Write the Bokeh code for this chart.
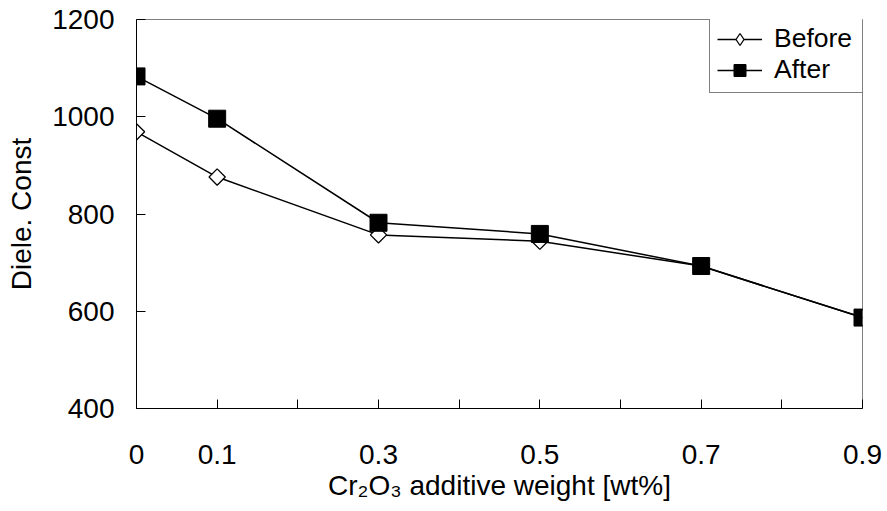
import numpy as np
from bokeh.plotting import figure
from bokeh.models import Range1d, FixedTicker, Legend, LegendItem, ColumnDataSource
from bokeh.embed import file_html
from bokeh.resources import INLINE

# ---- data ----
x_vals = [0.0, 0.1, 0.3, 0.5, 0.7, 0.9]
before = [969, 876, 757, 744, 693, 587]
after = [1083, 996, 782, 759, 693, 587]
x_major_ticks = [0.0, 0.1, 0.3, 0.5, 0.7, 0.9]
x_minor_ticks = [0.2, 0.4, 0.6, 0.8]
x_tick_labels = ["0", "0.1", "0.3", "0.5", "0.7", "0.9"]
y_ticks = [400, 600, 800, 1000, 1200]
y_tick_labels = ["400", "600", "800", "1000", "1200"]
series_names = ["Before", "After"]
x_title = "Cr\u2082O\u2083 additive weight [wt%]"
y_title = "Diele. Const"

FONT = "Liberation Sans"

p = figure(width=882, height=508, output_backend="svg", toolbar_location=None,
           x_range=Range1d(0, 0.9), y_range=Range1d(400, 1200),
           min_border_left=136, min_border_right=20, min_border_top=19, min_border_bottom=100)
p.xgrid.visible = False
p.ygrid.visible = False
p.outline_line_color = "#808080"
p.outline_line_width = 1
p.background_fill_color = "white"
p.border_fill_color = "white"

src_b = ColumnDataSource(dict(x=x_vals, y=before))
src_a = ColumnDataSource(dict(x=x_vals, y=after))

lb = p.line("x", "y", source=src_b, line_color="black", line_width=1.5)
# legend proxy diamond (tiny, hidden under the rotated squares)
sb_leg = p.scatter("x", "y", source=src_b, marker="diamond", size=1,
                   fill_color="white", line_color="black", line_width=1.3)
sb = p.scatter("x", "y", source=src_b, marker="square", angle=np.pi / 4, size=11.5,
               fill_color="white", line_color="black", line_width=1.3)
la = p.line("x", "y", source=src_a, line_color="black", line_width=1.5)
sa = p.scatter("x", "y", source=src_a, marker="square", size=17,
               fill_color="black", line_color="black", line_width=1)

# axes
xa = p.xaxis[0]
xa.ticker = FixedTicker(ticks=x_major_ticks, minor_ticks=x_minor_ticks)
xa.major_label_overrides = {v: s for v, s in zip(x_major_ticks, x_tick_labels)}
ya = p.yaxis[0]
ya.ticker = FixedTicker(ticks=y_ticks)
ya.major_label_overrides = {v: s for v, s in zip(y_ticks, y_tick_labels)}

for ax in (xa, ya):
    ax.axis_line_color = "black"
    ax.axis_line_width = 1
    ax.major_tick_in = 9
    ax.major_tick_out = 0
    ax.minor_tick_in = 9
    ax.minor_tick_out = 0
    ax.major_tick_line_color = "black"
    ax.minor_tick_line_color = "black"
    ax.major_label_text_font = FONT
    ax.major_label_text_font_size = "28px"
    ax.major_label_text_color = "black"
    ax.axis_label_text_font = FONT
    ax.axis_label_text_font_size = "28px"
    ax.axis_label_text_font_style = "normal"
    ax.axis_label_text_color = "black"
ya.minor_tick_line_color = None

xa.axis_label = x_title
ya.axis_label = y_title
xa.major_label_standoff = 36
xa.axis_label_standoff = 3
ya.major_label_standoff = 22
ya.axis_label_standoff = 12

legend = Legend(items=[LegendItem(label=series_names[0], renderers=[lb, sb_leg]),
                       LegendItem(label=series_names[1], renderers=[la, sa])],
                location=(573, 315))
legend.label_text_font = FONT
legend.label_text_font_size = "26.5px"
legend.label_text_color = "black"
legend.glyph_width = 45
legend.glyph_height = 30
legend.label_standoff = 12
legend.label_width = 84
legend.padding = 7
legend.spacing = 0
legend.margin = 0
legend.border_line_color = "black"
legend.border_line_width = 1
legend.background_fill_color = "white"
legend.background_fill_alpha = 1
p.add_layout(legend, "center")

open("out.html", "w").write(file_html(p, INLINE))
